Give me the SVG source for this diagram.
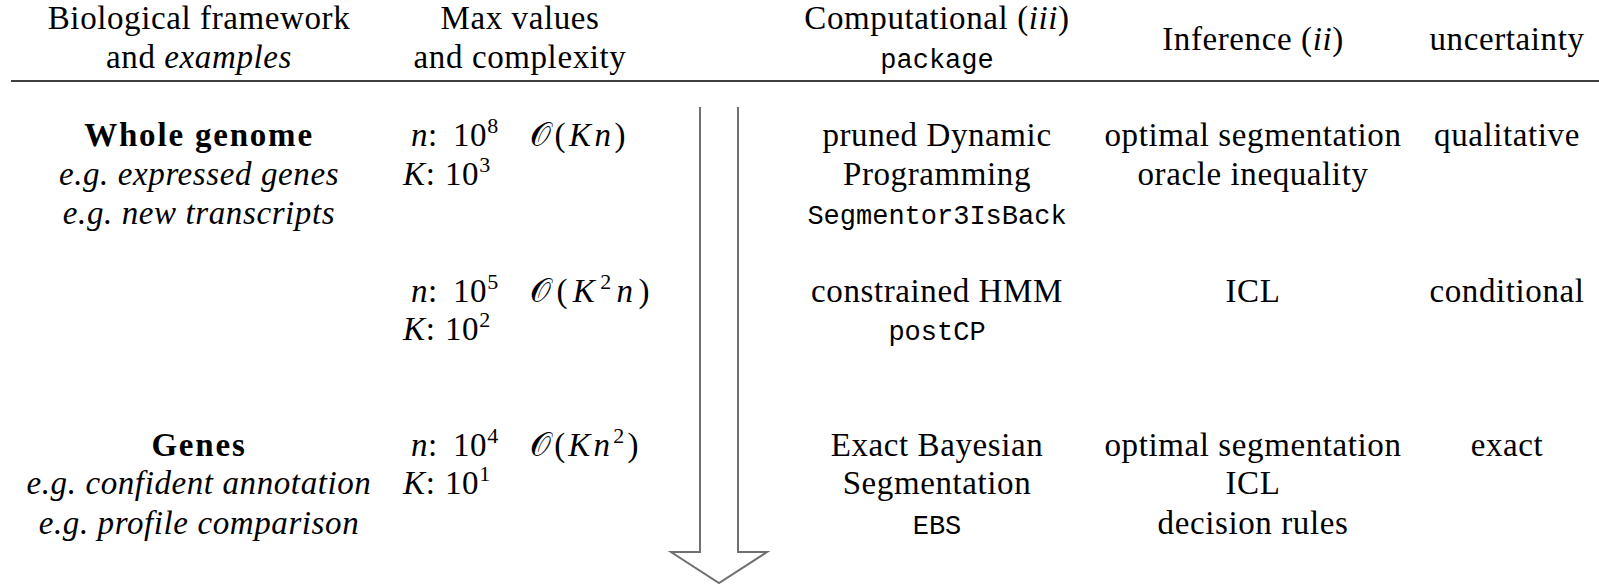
<svg xmlns="http://www.w3.org/2000/svg" width="1599" height="587" viewBox="0 0 1599 587">
<style>
.t{font-family:'Liberation Serif','DejaVu Serif',serif;font-size:33px;fill:#000;letter-spacing:0.6px}
.c{text-anchor:middle}
.i{font-style:italic}
.b{font-weight:bold;letter-spacing:1.8px}
.tt{font-family:'Liberation Mono','DejaVu Sans Mono',monospace;font-size:27px;letter-spacing:0}
.sup{font-size:22px}
.cal{font-family:'DejaVu Serif',serif;font-style:normal}
</style>
<rect width="1599" height="587" fill="#fff"/>
<g id="header" class="t">
<text class="c" x="199" y="29">Biological framework</text>
<text class="c" x="199" y="68">and <tspan class="i">examples</tspan></text>
<text class="c" x="520" y="29">Max values</text>
<text class="c" x="520" y="68">and complexity</text>
<text class="c" x="937" y="29">Computational (<tspan class="i">iii</tspan>)</text>
<text class="c tt" x="937" y="68">package</text>
<text class="c" x="1253" y="50">Inference (<tspan class="i">ii</tspan>)</text>
<text class="c" x="1507" y="50">uncertainty</text>
<line x1="11" y1="81" x2="1599" y2="81" stroke="#000" stroke-width="1.5"/>
</g>
<g id="connectors">
<path d="M700,107 V552 H671 L719,583 L767,552 H738 V107" fill="#fff" stroke="#707070" stroke-width="2" stroke-linejoin="miter"/>
</g>
<g id="row-whole-genome" class="t">
<text class="c b" x="199" y="146">Whole genome</text>
<text class="c i" x="199" y="185">e.g. expressed genes</text>
<text class="c i" x="199" y="224">e.g. new transcripts</text>
<text x="411" y="146"><tspan class="i">n</tspan>:<tspan x="453">10</tspan><tspan class="sup" dy="-13">8</tspan></text>
<text x="403" y="185"><tspan class="i">K</tspan>:<tspan x="445">10</tspan><tspan class="sup" dy="-13">3</tspan></text>
<text x="530" y="146" textLength="96" lengthAdjust="spacing"><tspan class="cal">𝒪</tspan>(<tspan class="i">Kn</tspan>)</text>
<text class="c" x="937" y="146">pruned Dynamic</text>
<text class="c" x="937" y="185">Programming</text>
<text class="c tt" x="937" y="224">Segmentor3IsBack</text>
<text class="c" x="1253" y="146">optimal segmentation</text>
<text class="c" x="1253" y="185">oracle inequality</text>
<text class="c" x="1507" y="146">qualitative</text>
</g>
<g id="row-hmm" class="t">
<text x="411" y="302"><tspan class="i">n</tspan>:<tspan x="453">10</tspan><tspan class="sup" dy="-13">5</tspan></text>
<text x="403" y="340"><tspan class="i">K</tspan>:<tspan x="445">10</tspan><tspan class="sup" dy="-13">2</tspan></text>
<text x="530" y="302" textLength="120" lengthAdjust="spacing"><tspan class="cal">𝒪</tspan>(<tspan class="i">K</tspan><tspan class="sup" dy="-13">2</tspan><tspan class="i" dy="13">n</tspan>)</text>
<text class="c" x="937" y="302">constrained HMM</text>
<text class="c tt" x="937" y="340">postCP</text>
<text class="c" x="1253" y="302">ICL</text>
<text class="c" x="1507" y="302">conditional</text>
</g>
<g id="row-genes" class="t">
<text class="c b" x="199" y="456">Genes</text>
<text class="c i" x="199" y="494">e.g. confident annotation</text>
<text class="c i" x="199" y="534">e.g. profile comparison</text>
<text x="411" y="456"><tspan class="i">n</tspan>:<tspan x="453">10</tspan><tspan class="sup" dy="-13">4</tspan></text>
<text x="403" y="494"><tspan class="i">K</tspan>:<tspan x="445">10</tspan><tspan class="sup" dy="-13">1</tspan></text>
<text x="530" y="456" textLength="109" lengthAdjust="spacing"><tspan class="cal">𝒪</tspan>(<tspan class="i">Kn</tspan><tspan class="sup" dy="-13">2</tspan><tspan dy="13">)</tspan></text>
<text class="c" x="937" y="456">Exact Bayesian</text>
<text class="c" x="937" y="494">Segmentation</text>
<text class="c tt" x="937" y="534">EBS</text>
<text class="c" x="1253" y="456">optimal segmentation</text>
<text class="c" x="1253" y="494">ICL</text>
<text class="c" x="1253" y="534">decision rules</text>
<text class="c" x="1507" y="456">exact</text>
</g>
</svg>
